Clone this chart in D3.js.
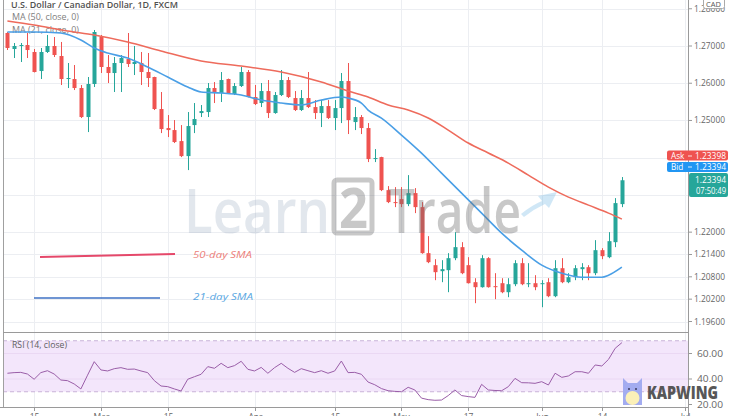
<!DOCTYPE html>
<html><head><meta charset="utf-8">
<script src="https://cdn.jsdelivr.net/npm/d3@7"></script>
<style>
html,body{margin:0;padding:0;background:#fff;overflow:hidden}
svg{display:block;font-family:"Open Sans","Noto Sans",sans-serif}
</style></head><body>
<svg id="c" width="740" height="416"></svg>
<script>
// ---- data ----
const opens=[1.27349,1.26919,1.27000,1.27027,1.26839,1.26328,1.26839,1.27000,1.26731,1.26113,
1.26113,1.25871,1.25092,1.25979,1.27242,1.26436,1.26274,1.26543,1.26650,1.26516,
1.26543,1.26301,1.26167,1.25307,1.24796,1.24742,1.24446,1.24043,1.24876,1.25199,
1.25226,1.25871,1.25737,1.26113,1.25710,1.25925,1.26301,1.25629,1.25468,1.25790,
1.25199,1.25683,1.26086,1.25602,1.25280,1.25602,1.25360,1.25199,1.25387,1.25065,
1.25333,1.26059,1.24957,1.25092,1.24796,1.23963,1.24016,1.23129,1.22807,1.22887,
1.22753,1.23049,1.22672,1.21436,1.21113,1.20952,1.20979,1.21301,1.21597,1.21113,
1.20656,1.20522,1.21301,1.20549,1.20629,1.20387,1.20602,1.21167,1.20602,1.20629,
1.20602,1.20656,1.20280,1.21032,1.20656,1.20790,1.21006,1.21059,1.20898,1.21516,
1.21328,1.21731,1.22753];
const highs=[1.27376,1.27081,1.27081,1.27349,1.26919,1.26946,1.27296,1.27242,1.27108,1.26543,
1.26489,1.25952,1.26167,1.27430,1.27296,1.26758,1.26704,1.26758,1.27349,1.27000,
1.26839,1.26812,1.26175,1.25764,1.25145,1.25011,1.24876,1.25226,1.25468,1.25414,
1.26005,1.26032,1.26301,1.26125,1.26005,1.26436,1.26355,1.25952,1.26005,1.26086,
1.25764,1.26355,1.26167,1.25790,1.25817,1.26301,1.25548,1.25548,1.25548,1.25548,
1.26274,1.26543,1.25360,1.25145,1.24930,1.24231,1.24025,1.23237,1.23210,1.23210,
1.23532,1.23183,1.22807,1.21893,1.21274,1.21247,1.21436,1.22000,1.21731,1.21328,
1.20763,1.21382,1.21328,1.20898,1.20763,1.20763,1.21247,1.21301,1.21167,1.20844,
1.20710,1.20763,1.21247,1.21301,1.20898,1.21113,1.21167,1.21113,1.21785,1.21570,
1.22000,1.22914,1.23480];
const lows=[1.26892,1.26677,1.26570,1.26677,1.26290,1.26113,1.26812,1.26704,1.25952,1.25871,
1.25817,1.25065,1.24688,1.25898,1.26274,1.26005,1.25764,1.25764,1.26436,1.26220,
1.25952,1.25898,1.25280,1.24661,1.24554,1.24393,1.24016,1.23667,1.24661,1.25092,
1.25092,1.25468,1.25495,1.25710,1.25683,1.25898,1.25620,1.25414,1.25360,1.25065,
1.25180,1.25656,1.25602,1.25253,1.25253,1.25333,1.25038,1.24823,1.25038,1.24742,
1.24930,1.24635,1.24742,1.24635,1.23882,1.23882,1.23102,1.22780,1.22672,1.22672,
1.22699,1.22511,1.21420,1.21167,1.20710,1.20656,1.20387,1.21247,1.20871,1.20620,
1.20092,1.20510,1.20510,1.20199,1.20360,1.20253,1.20549,1.20575,1.20522,1.20441,
1.19984,1.20253,1.20253,1.20629,1.20629,1.20710,1.20710,1.20710,1.20844,1.21274,
1.21301,1.21597,1.22672];
const closes=[1.26946,1.27000,1.27027,1.26892,1.26301,1.26839,1.27000,1.26758,1.26113,1.26140,
1.25871,1.25092,1.25979,1.27376,1.26436,1.26274,1.26543,1.26677,1.26516,1.26570,
1.26301,1.26140,1.25307,1.24769,1.24742,1.24420,1.24043,1.24850,1.25038,1.25253,
1.25871,1.25737,1.26086,1.25737,1.25925,1.26301,1.25629,1.25441,1.25790,1.25199,
1.25683,1.26086,1.25629,1.25280,1.25602,1.25360,1.25199,1.25387,1.25065,1.25333,
1.26059,1.25011,1.25092,1.24796,1.23963,1.23990,1.23129,1.22807,1.22780,1.22753,
1.23049,1.22672,1.21436,1.21194,1.20925,1.21006,1.21301,1.21597,1.20898,1.20629,
1.20522,1.21301,1.20522,1.20522,1.20387,1.20602,1.21167,1.20602,1.20629,1.20522,
1.20629,1.20280,1.21032,1.20656,1.20790,1.21032,1.21059,1.20898,1.21516,1.21355,
1.21758,1.22780,1.23394];

const ma50Idx=[0,4,9,13,18,23,29,35,41,47,51,54,57,60,63,66,69,72,75,78,81,84,87,90,92];
const ma50Val=[1.27672,1.27565,1.27403,1.27296,1.27108,1.26866,1.26597,1.26462,1.26301,1.26032,
1.25790,1.25629,1.25414,1.25280,1.25065,1.24742,1.24393,1.24124,1.23855,1.23532,
1.23210,1.22941,1.22726,1.22511,1.22350];
const ma21Idx=[0,4,8,11,13,15,18,21,24,27,29,32,35,38,41,44,47,50,51,53,54,56,59,62,65,68,71,74,77,80,83,86,89,90,92];
const ma21Val=[1.27376,1.27376,1.27349,1.27161,1.26946,1.26812,1.26677,1.26436,1.26167,1.25898,
1.25764,1.25737,1.25683,1.25548,1.25468,1.25414,1.25548,1.25629,1.25602,1.25468,
1.25280,1.25065,1.24608,1.24124,1.23586,1.23049,1.22511,1.21973,1.21516,1.21113,
1.20898,1.20790,1.20790,1.20844,1.21059];

const rsiValues=[44.5,45.0,45.2,43.9,39.8,45.0,46.5,43.9,39.2,38.7,
36.1,32.2,43.0,53.6,47.1,46.3,48.1,48.9,47.6,47.8,
46.3,45.0,38.7,34.5,34.0,32.2,30.6,39.8,41.8,43.7,
49.7,48.4,52.3,48.9,50.5,53.9,47.6,46.3,49.1,44.5,
48.9,52.3,48.4,45.2,48.1,46.5,45.0,46.5,44.5,46.3,
54.1,45.0,45.2,43.7,37.6,35.5,32.5,30.8,30.3,30.0,
33.5,31.4,25.0,23.8,23.3,23.5,27.0,31.4,27.0,26.2,
25.6,35.8,31.4,31.0,30.8,34.0,40.5,37.1,37.0,36.6,
37.9,35.3,44.5,41.3,42.4,45.7,45.7,44.5,51.0,50.2,
55.4,64.1,68.5];

const priceLabels=[1.27,1.26,1.25,1.22,1.214,1.208,1.202,1.196];
const priceGrid=[1.28,1.27,1.26,1.25,1.24,1.23,1.22,1.214,1.208,1.202,1.196];
const rsiLabels=[60,40,20];
const timeTickIdx=[4,14,24,37,49,59,69,80,89,101.5];
const timeTickLabels=["15","Mar","15","Apr","15","May","17","Jun","14","Jul"];
const askPrice="1.23398", bidPrice="1.23394", lastPrice="1.23394", countdown="07:50:49";

// ---- layout ----
const svg=d3.select("#c");
const plotL=3, plotR=688, mainT=0, mainB=332, rsiT=332, rsiB=407;
const x=d3.scaleLinear().domain([-0.6,101.9]).range([plotL+0.4,plotR]);
const y=d3.scaleLinear().domain([1.196,1.27]).range([321.5,46]);
const yr=d3.scaleLinear().domain([20,70]).range([404.5,340.75]);
const UP="#26a69a", DN="#ef5350";
const candles=opens.map((o,i)=>({i,o,h:highs[i],l:lows[i],c:closes[i]}));

svg.append("rect").attr("width",740).attr("height",416).attr("fill","#fff");

// grid
const grid=svg.append("g").attr("stroke","#eceef2").attr("stroke-width",1);
timeTickIdx.forEach(t=>{const xx=Math.round(x(t))+0.5;
  grid.append("line").attr("x1",xx).attr("x2",xx).attr("y1",0).attr("y2",rsiB);});
priceGrid.forEach(p=>{const yy=Math.round(y(p))+0.5;
  grid.append("line").attr("x1",plotL).attr("x2",plotR).attr("y1",yy).attr("y2",yy);});

// RSI band
svg.append("rect").attr("x",plotL).attr("width",plotR-plotL).attr("y",yr(70)).attr("height",yr(30)-yr(70)).attr("fill","#f3e6fb");
[60,40].forEach(v=>svg.append("line").attr("x1",plotL).attr("x2",plotR).attr("y1",yr(v)).attr("y2",yr(v)).attr("stroke","#ead8f3"));
[70,30].forEach(v=>svg.append("line").attr("x1",plotL).attr("x2",plotR).attr("y1",yr(v)).attr("y2",yr(v)).attr("stroke","#c9b3d8").attr("stroke-dasharray","4,3"));

// header legend
const hdr=svg.append("g").attr("font-size",8.2);
hdr.append("text").attr("x",11).attr("y",8).attr("fill","#505050").attr("font-weight",600).attr("textLength",167).attr("lengthAdjust","spacingAndGlyphs").text("U.S. Dollar / Canadian Dollar, 1D, FXCM");
hdr.append("text").attr("x",12).attr("y",19.5).attr("fill","#808080").attr("textLength",67).attr("lengthAdjust","spacingAndGlyphs").text("MA (50, close, 0)");
hdr.append("text").attr("x",12).attr("y",32.5).attr("fill","#808080").attr("textLength",67).attr("lengthAdjust","spacingAndGlyphs").text("MA (21, close, 0)");

// candles
const cg=svg.append("g");
cg.selectAll("line.w").data(candles).join("line").attr("class","w")
  .attr("x1",d=>Math.round(x(d.i))+0.5).attr("x2",d=>Math.round(x(d.i))+0.5)
  .attr("y1",d=>y(d.h)).attr("y2",d=>y(d.l))
  .attr("stroke",d=>d.c>=d.o?UP:DN).attr("stroke-width",1);
cg.selectAll("rect.b").data(candles).join("rect").attr("class","b")
  .attr("x",d=>Math.round(x(d.i))-1.5).attr("width",4)
  .attr("y",d=>y(Math.max(d.o,d.c)))
  .attr("height",d=>Math.max(1,Math.abs(y(d.o)-y(d.c))))
  .attr("fill",d=>d.c>=d.o?UP:DN);

// moving averages
const ln=d3.line().x(d=>x(d[0])).y(d=>y(d[1])).curve(d3.curveMonotoneX);
svg.append("path").attr("d",ln(ma50Idx.map((v,k)=>[v,ma50Val[k]]))).attr("fill","none").attr("stroke","#ee6b5c").attr("stroke-width",1.6);
svg.append("path").attr("d",ln(ma21Idx.map((v,k)=>[v,ma21Val[k]]))).attr("fill","none").attr("stroke","#4a9fe6").attr("stroke-width",1.6);

// watermark
const wm=svg.append("g");
wm.append("text").attr("x",184).attr("y",233).attr("font-size",62).attr("font-weight",600)
  .attr("fill","rgba(150,170,190,0.28)").attr("textLength",146).attr("lengthAdjust","spacingAndGlyphs").text("Learn");
wm.append("rect").attr("x",334).attr("y",180).attr("width",38).attr("height",53).attr("rx",3)
  .attr("fill","none").attr("stroke","rgba(110,110,110,0.38)").attr("stroke-width",5);
wm.append("text").attr("x",339).attr("y",228).attr("font-size",56).attr("font-weight",700)
  .attr("fill","rgba(110,110,110,0.38)").attr("textLength",29).attr("lengthAdjust","spacingAndGlyphs").text("2");
wm.append("text").attr("x",388).attr("y",233).attr("font-size",62).attr("font-weight",600)
  .attr("fill","rgba(110,110,110,0.38)").attr("textLength",133).attr("lengthAdjust","spacingAndGlyphs").text("Trade");
wm.append("path").attr("d","M521,214 Q532,205 542,201 L538,196 L557,192 L549,208 L545,204 Q534,209 524,217 Z")
  .attr("fill","rgba(120,185,230,0.35)");

// SMA annotations
svg.append("line").attr("x1",40).attr("y1",257).attr("x2",175).attr("y2",254).attr("stroke","#e5486a").attr("stroke-width",2);
svg.append("text").attr("x",193).attr("y",258).attr("font-size",9.5).attr("font-style","italic").attr("fill","#ec7d78").attr("textLength",59).attr("lengthAdjust","spacingAndGlyphs").text("50-day SMA");
svg.append("line").attr("x1",34).attr("y1",298).attr("x2",160).attr("y2",298).attr("stroke","#3f72c4").attr("stroke-width",1.6);
svg.append("text").attr("x",193).attr("y",300).attr("font-size",9.5).attr("font-style","italic").attr("fill","#5aa7e2").attr("textLength",60).attr("lengthAdjust","spacingAndGlyphs").text("21-day SMA");

// RSI line
const rl=d3.line().x((d,i)=>x(i)).y(d=>yr(d));
svg.append("path").attr("d",rl(rsiValues)).attr("fill","none").attr("stroke","#9a5ea8").attr("stroke-width",1);
svg.append("text").attr("x",12).attr("y",348).attr("font-size",8.2).attr("fill","#606060").attr("textLength",55).attr("lengthAdjust","spacingAndGlyphs").text("RSI (14, close)");

// frame lines
svg.append("line").attr("x1",plotL+0.5).attr("x2",plotL+0.5).attr("y1",0).attr("y2",rsiB).attr("stroke","#a0a0a0");
svg.append("line").attr("x1",plotR+0.5).attr("x2",plotR+0.5).attr("y1",0).attr("y2",416).attr("stroke","#9a9a9a");
svg.append("line").attr("x1",plotL).attr("x2",plotR).attr("y1",mainB+0.5).attr("y2",mainB+0.5).attr("stroke","#9a9a9a");
svg.append("line").attr("x1",0).attr("x2",plotR).attr("y1",rsiB+0.5).attr("y2",rsiB+0.5).attr("stroke","#9a9a9a");

// price axis
const pa=svg.append("g").attr("font-size",8.2).attr("fill","#666");
[1.28].concat(priceLabels).forEach(p=>{
  const yy=y(p);
  pa.append("line").attr("x1",plotR).attr("x2",plotR+4).attr("y1",yy).attr("y2",yy).attr("stroke","#999");
  pa.append("text").attr("x",694).attr("y",yy+3).attr("textLength",31).attr("lengthAdjust","spacingAndGlyphs").text(d3.format(".5f")(p));
});
// currency box
svg.append("rect").attr("x",703.5).attr("y",-2).attr("width",21).attr("height",10.5).attr("rx",2).attr("fill","#fff").attr("stroke","#aaa");
svg.append("text").attr("x",706).attr("y",6.5).attr("font-size",7.5).attr("fill","#555").text("CAD");

// RSI axis
rsiLabels.forEach(v=>{
  const yy=yr(v);
  pa.append("line").attr("x1",plotR).attr("x2",plotR+4).attr("y1",yy).attr("y2",yy).attr("stroke","#999");
  pa.append("text").attr("x",697).attr("y",yy+3).attr("textLength",26).attr("lengthAdjust","spacingAndGlyphs").text(d3.format(".2f")(v));
});

// time axis
const ta=svg.append("g").attr("font-size",8.5).attr("fill","#666");
timeTickIdx.forEach((t,k)=>{
  const xx=Math.round(x(t))+0.5;
  ta.append("line").attr("x1",xx).attr("x2",xx).attr("y1",rsiB).attr("y2",rsiB+4).attr("stroke","#999");
  ta.append("text").attr("x",xx).attr("y",420).attr("text-anchor","middle").text(timeTickLabels[k]);
});

// price tags
const tag=(yy,h,col,x0)=>svg.append("rect").attr("x",x0).attr("y",yy).attr("width",728-x0).attr("height",h).attr("rx",2).attr("fill",col);
tag(150.5,10,"#ef5350",667);
tag(162,10,"#2196f3",667);
tag(173,24,"#26a69a",689);
const tt=svg.append("g").attr("font-size",8.2).attr("fill","#fff");
tt.append("text").attr("x",671).attr("y",158.5).text("Ask");
tt.append("text").attr("x",695).attr("y",158.5).attr("textLength",31).attr("lengthAdjust","spacingAndGlyphs").text(askPrice);
tt.append("text").attr("x",671).attr("y",170).text("Bid");
tt.append("text").attr("x",695).attr("y",170).attr("textLength",31).attr("lengthAdjust","spacingAndGlyphs").text(bidPrice);
tt.append("text").attr("x",695).attr("y",183).attr("textLength",31).attr("lengthAdjust","spacingAndGlyphs").text(lastPrice);
tt.append("text").attr("x",696).attr("y",194).attr("textLength",30).attr("lengthAdjust","spacingAndGlyphs").text(countdown);
[156,167].forEach(yy=>svg.append("line").attr("x1",688).attr("x2",692).attr("y1",yy).attr("y2",yy).attr("stroke","rgba(255,255,255,0.8)"));

// KAPWING badge
const kw=svg.append("g");
kw.append("path").attr("d","M623,405 L623,378 L628,383 L637,383 L642,378 L642,405 Z").attr("fill","#a3acf0");
kw.append("ellipse").attr("cx",632.5).attr("cy",398).attr("rx",7).attr("ry",7).attr("fill","#fbf0b8");
kw.append("circle").attr("cx",629).attr("cy",389).attr("r",1).attr("fill","#3c3c60");
kw.append("circle").attr("cx",636).attr("cy",389).attr("r",1).attr("fill","#3c3c60");
kw.append("text").attr("x",647).attr("y",398.5).attr("font-size",17).attr("font-weight",800).attr("fill","#575757")
  .attr("textLength",71).attr("lengthAdjust","spacingAndGlyphs").text("KAPWING");
</script>
</body></html>
